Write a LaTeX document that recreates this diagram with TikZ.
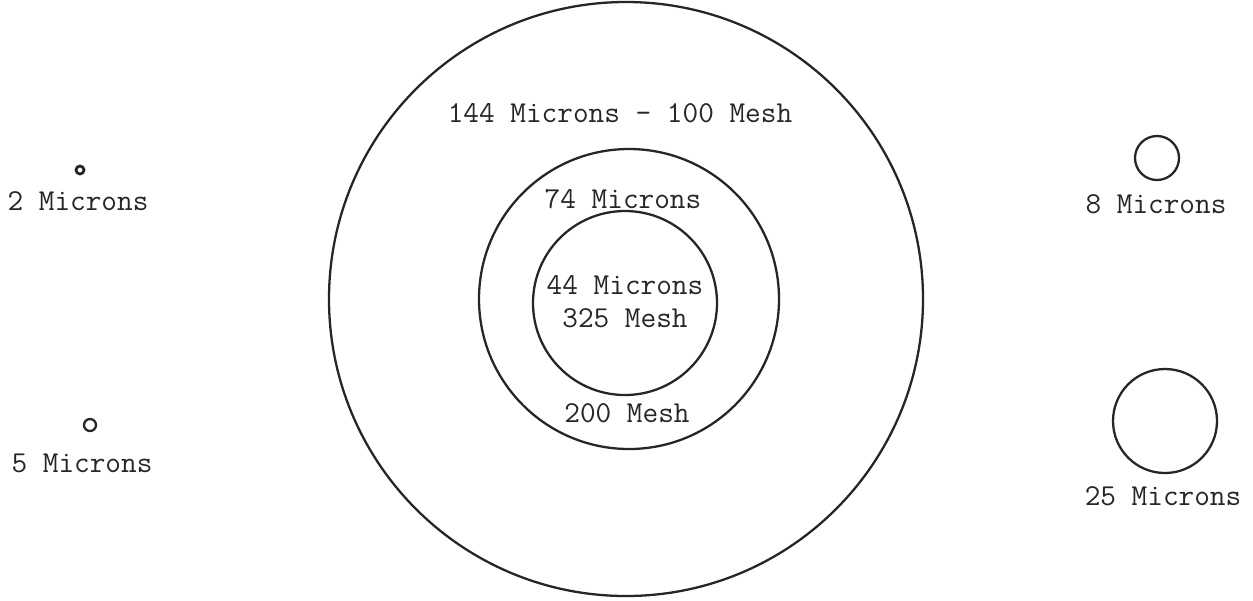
\documentclass[tikz,border=0pt]{standalone}
\usepackage{fontspec}
\begin{document}
\begin{tikzpicture}[x=0.02cm,y=-0.02cm,
    font=\ttfamily\fontsize{17.3}{20}\selectfont,
    ring/.style={black!85,line width=1.3pt},
    lbl/.style={black!85,inner sep=0pt}]
  \useasboundingbox (0,0) rectangle (1253,600);
  % nested sieve circles
  \draw[ring] (626,299) circle (297);
  \draw[ring] (629,299) circle (150);
  \draw[ring] (625,303) circle (92);
  \node[lbl] (mesh100) at (620,113) {144 Microns - 100 Mesh};
  \node[lbl] (mesh200top) at (623,199) {74 Microns};
  \node[lbl] (mesh325a) at (625,285) {44 Microns};
  \node[lbl] (mesh325b) at (625,318) {325 Mesh};
  \node[lbl] (mesh200) at (627,413) {200 Mesh};
  % small particles
  \draw[ring,line width=1.6pt] (80,170) circle (4);
  \node[lbl] (two) at (78,201) {2 Microns};
  \draw[ring] (90,425) circle (6);
  \node[lbl] (five) at (82,463) {5 Microns};
  \draw[ring] (1157,158) circle (22);
  \node[lbl] (eight) at (1156,204) {8 Microns};
  \draw[ring] (1165,421) circle (52);
  \node[lbl] (twentyfive) at (1163,496) {25 Microns};
\end{tikzpicture}
\end{document}
